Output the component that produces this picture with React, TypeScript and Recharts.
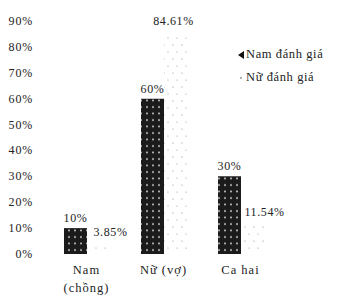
import React from "react";
import { BarChart, Bar, XAxis, YAxis, LabelList } from "recharts";

const categories = ["Nam\n(chồng)", "Nữ (vợ)", "Ca hai"];
const namDanhGia = [10, 60, 30];
const nuDanhGia = [3.85, 84.61, 11.54];
const yTicks = [0, 10, 20, 30, 40, 50, 60, 70, 80, 90];
const seriesNames = ["Nam đánh giá", "Nữ đánh giá"];

const data = categories.map((c, i) => ({ cat: c, nam: namDanhGia[i], nu: nuDanhGia[i] }));

const FONT = "'Liberation Serif', 'DejaVu Serif', serif";

const YTick = (props: any) => {
  const { x, y, payload } = props;
  return (
    <text x={x - 7} y={y} dy={4} textAnchor="end" fontFamily={FONT} fontSize={12} letterSpacing={0.8} fill="#222">
      {payload.value + "%"}
    </text>
  );
};

const XTick = (props: any) => {
  const { x, y, payload } = props;
  const lines = String(payload.value).split("\n");
  return (
    <g>
      {lines.map((l, i) => (
        <text key={i} x={x} y={y + 12 + i * 18} textAnchor="middle" fontFamily={FONT} fontSize={12.5} letterSpacing={1} fill="#222">
          {l}
        </text>
      ))}
    </g>
  );
};

const LegendBox = () => (
  <div style={{ position: "absolute", left: 238, top: 43, fontFamily: FONT, fontSize: 12.5, color: "#222", letterSpacing: 0.6, lineHeight: "23px" }}>
    <div style={{ display: "flex", alignItems: "center" }}>
      <svg width={7} height={8} style={{ marginRight: 1 }}>
        <path d="M0,4 L6,0 L6,8 Z" fill="#111" />
      </svg>
      {seriesNames[0]}
    </div>
    <div style={{ display: "flex", alignItems: "center" }}>
      <svg width={7} height={8} style={{ marginRight: 1 }}>
        <circle cx={3} cy={4} r={1} fill="#999" />
      </svg>
      {seriesNames[1]}
    </div>
  </div>
);

const labelStyle = { fontFamily: FONT, fontSize: 12, fill: "#222", letterSpacing: 0.6 };

const NuLabel = (props: any) => {
  const { x, y, width, value } = props;
  const small = Number(value) < 20;
  const cx = x + width / 2 + (small ? 12 : -2);
  const cy = y - (small ? 8 : 10);
  return (
    <text x={cx} y={cy} textAnchor="middle" {...labelStyle}>
      {value + "%"}
    </text>
  );
};

export default function App() {
  return (
    <div style={{ position: "absolute", left: 0, top: 0, width: 341, height: 299, background: "#fff" }}>
      <BarChart
        width={341}
        height={299}
        data={data}
        margin={{ top: 21, right: 62, left: 4, bottom: 0 }}
        barGap={0}
        barCategoryGap={15}
      >
        <defs>
          <pattern id="namPat" width={6} height={6.5} patternUnits="userSpaceOnUse">
            <rect width={6} height={6.5} fill="#1b1b1b" />
            <circle cx={3} cy={3} r={0.9} fill="#e8e8e8" />
          </pattern>
          <pattern id="nuPat" width={9} height={14} patternUnits="userSpaceOnUse">
            <rect width={9} height={14} fill="#ffffff" />
            <circle cx={2} cy={3} r={0.6} fill="#888" />
            <circle cx={6} cy={10} r={0.6} fill="#999" />
          </pattern>
        </defs>
        <XAxis dataKey="cat" axisLine={false} tickLine={false} tick={<XTick />} interval={0} height={45} />
        <YAxis
          domain={[0, 90]}
          ticks={yTicks}
          interval={0}
          axisLine={false}
          tickLine={false}
          width={44}
          tick={<YTick />}
        />
        <Bar dataKey="nam" name={seriesNames[0]} fill="url(#namPat)" barSize={23} isAnimationActive={false}>
          <LabelList dataKey="nam" position="top" offset={6} formatter={(v: any) => v + "%"} style={labelStyle} />
        </Bar>
        <Bar dataKey="nu" name={seriesNames[1]} fill="url(#nuPat)" barSize={23} isAnimationActive={false}>
          <LabelList dataKey="nu" content={<NuLabel />} />
        </Bar>
      </BarChart>
      <LegendBox />
    </div>
  );
}
